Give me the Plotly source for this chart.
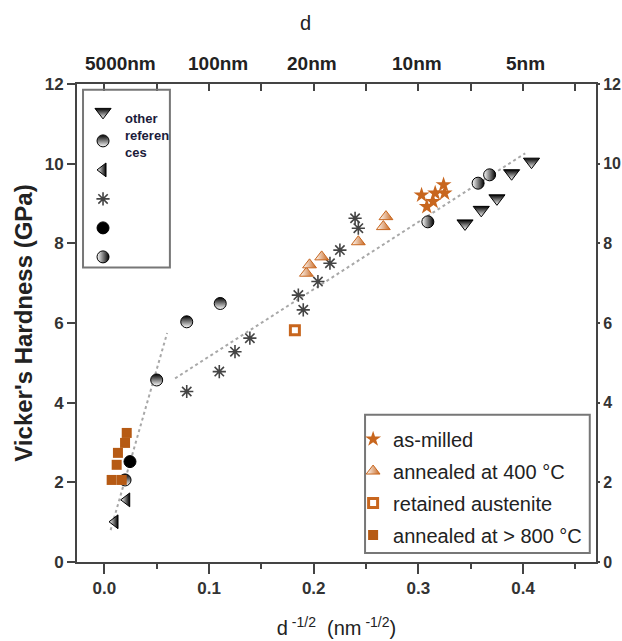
import plotly.graph_objects as go

# ---------------- data ----------------
# "other references"
dtri_x = [0.3445, 0.360, 0.375, 0.389, 0.408]
dtri_y = [8.50, 8.84, 9.13, 9.76, 10.05]
capc_x = [0.0198, 0.050, 0.0787, 0.1107]
capc_y = [2.06, 4.57, 6.03, 6.49]
ltri_x = [0.0102, 0.0214]
ltri_y = [1.01, 1.56]
ast_x = [0.0787, 0.1098, 0.1248, 0.139, 0.1853, 0.190, 0.204, 0.2155, 0.225, 0.2395, 0.2426]
ast_y = [4.28, 4.78, 5.28, 5.62, 6.70, 6.33, 7.04, 7.50, 7.83, 8.63, 8.38]
fcir_x = [0.0245]
fcir_y = [2.52]
hcir_x = [0.309, 0.357, 0.368]
hcir_y = [8.54, 9.51, 9.72]

# this work
star_x = [0.303, 0.308, 0.314, 0.316, 0.324, 0.325]
star_y = [9.21, 8.92, 9.05, 9.26, 9.47, 9.26]
tri400_x = [0.193, 0.196, 0.2076, 0.2426, 0.2665, 0.269]
tri400_y = [7.25, 7.46, 7.66, 8.04, 8.42, 8.67]
ret_x = [0.182]
ret_y = [5.82]
sq800_x = [0.0214, 0.0198, 0.013, 0.0118, 0.007, 0.0166]
sq800_y = [3.24, 2.99, 2.74, 2.44, 2.06, 2.06]

# dotted guide lines
fit1_x = [0.006, 0.060]
fit1_y = [0.80, 5.75]
fit2_x = [0.0676, 0.402]
fit2_y = [4.61, 10.26]

# axis ticks
y_ticks = [0, 2, 4, 6, 8, 10, 12]
x_ticks = [0.0, 0.1, 0.2, 0.3, 0.4]
x_tick_text = ["0.0", "0.1", "0.2", "0.3", "0.4"]
top_label_x = [0.015, 0.1086, 0.1983, 0.2987, 0.4018]
top_label_text = ["5000nm", "100nm", "20nm", "10nm", "5nm"]

ORANGE = "#c8661e"
SQ = "#b65a14"
FONT = "Liberation Sans, Arial, sans-serif"
NB = "\u00a0"

fig = go.Figure()

fig.add_trace(go.Scatter(x=fit1_x, y=fit1_y, mode="lines", showlegend=False,
                         line=dict(color="#a8a8a8", width=2, dash="dot")))
fig.add_trace(go.Scatter(x=fit2_x, y=fit2_y, mode="lines", showlegend=False,
                         line=dict(color="#a8a8a8", width=2, dash="dot")))

lg2 = dict(legend="legend2")
fig.add_trace(go.Scatter(x=dtri_x, y=dtri_y, mode="markers", name=NB, legendgroup="a", **lg2,
                         marker=dict(symbol="triangle-down", size=14, color="black",
                                     gradient=dict(type="vertical", color="white"),
                                     line=dict(color="black", width=1))))
fig.add_trace(go.Scatter(x=capc_x, y=capc_y, mode="markers", name=NB, legendgroup="b", **lg2,
                         marker=dict(symbol="circle", size=12, color="black",
                                     gradient=dict(type="vertical", color="white"),
                                     line=dict(color="black", width=1))))
fig.add_trace(go.Scatter(x=ltri_x, y=ltri_y, mode="markers", name=NB, legendgroup="c", **lg2,
                         marker=dict(symbol="triangle-left", size=12, color="white",
                                     gradient=dict(type="horizontal", color="black"),
                                     line=dict(color="black", width=1))))
fig.add_trace(go.Scatter(x=ast_x, y=ast_y, mode="markers", name=NB, legendgroup="d", **lg2,
                         marker=dict(symbol="asterisk", size=11, color="#444",
                                     line=dict(color="#444", width=1.6))))
fig.add_trace(go.Scatter(x=fcir_x, y=fcir_y, mode="markers", name=NB, legendgroup="e", **lg2,
                         marker=dict(symbol="circle", size=12, color="black",
                                     line=dict(color="black", width=1))))
fig.add_trace(go.Scatter(x=hcir_x, y=hcir_y, mode="markers", name=NB, legendgroup="f", **lg2,
                         marker=dict(symbol="circle", size=12, color="white",
                                     gradient=dict(type="horizontal", color="black"),
                                     line=dict(color="black", width=1))))

fig.add_trace(go.Scatter(x=sq800_x, y=sq800_y, mode="markers", name="annealed at > 800 °C",
                         legendgroup="s4", legendrank=4,
                         marker=dict(symbol="square", size=10, color=SQ, line=dict(width=0))))
fig.add_trace(go.Scatter(x=ret_x, y=ret_y, mode="markers", name="retained austenite",
                         legendgroup="s3", legendrank=3,
                         marker=dict(symbol="square-open", size=9, color=ORANGE,
                                     line=dict(color=ORANGE, width=3))))
fig.add_trace(go.Scatter(x=tri400_x, y=tri400_y, mode="markers", name="annealed at 400 °C",
                         legendgroup="s2", legendrank=2,
                         marker=dict(symbol="triangle-up", size=12, color="white",
                                     gradient=dict(type="horizontal", color=ORANGE),
                                     line=dict(color=ORANGE, width=1))))
fig.add_trace(go.Scatter(x=star_x, y=star_y, mode="markers", name="as-milled",
                         legendgroup="s1", legendrank=1,
                         marker=dict(symbol="star", size=12, color=ORANGE, line=dict(width=0))))

# invisible trace to activate the right y axis and top x axis
fig.add_trace(go.Scatter(x=[None], y=[None], xaxis="x2", yaxis="y2", showlegend=False))

XR = [-0.0261, 0.4696]
axis_font = dict(family=FONT, size=17, color="#333", weight="bold")
axis_font_r = dict(family=FONT, size=16, color="#333", weight="bold")

fig.update_layout(
    width=622, height=641,
    margin=dict(l=77, r=26, t=84, b=79, autoexpand=False),
    paper_bgcolor="white", plot_bgcolor="white",
    font=dict(family=FONT, color="#222"),
    xaxis=dict(range=XR, tickvals=x_ticks, ticktext=x_tick_text, ticks="outside", ticklen=10,
               tickwidth=2, tickcolor="#444", showline=True, linecolor="#444", linewidth=2,
               showgrid=False, zeroline=False, tickfont=axis_font, automargin=False,
               minor=dict(dtick=0.05, tick0=0, ticks="outside", ticklen=5, tickwidth=2, tickcolor="#444"),
               title=dict(text="d<sup> -1/2</sup>  (nm<sup> -1/2</sup>)",
                          font=dict(family=FONT, size=20, color="#222"), standoff=24)),
    xaxis2=dict(range=XR, overlaying="x", side="top", dtick=0.05, tick0=0, ticks="inside", ticklen=7,
                tickwidth=2, tickcolor="#444", showline=True, linecolor="#444", linewidth=2,
                showgrid=False, zeroline=False, showticklabels=False, automargin=False),
    yaxis=dict(range=[0, 12], tickvals=y_ticks, ticks="outside", ticklen=8, tickwidth=2,
               tickcolor="#444", showline=True, linecolor="#444", linewidth=2, showgrid=False,
               zeroline=False, tickfont=axis_font, automargin=False,
               title=dict(text="Vicker's Hardness (GPa)",
                          font=dict(family=FONT, size=24, color="#222", weight="bold"), standoff=5)),
    yaxis2=dict(range=[0, 12], overlaying="y", side="right", tickvals=y_ticks, ticks="outside",
                ticklen=2, tickwidth=2, tickcolor="#444", showline=True, linecolor="#444",
                linewidth=2, showgrid=False, zeroline=False, tickfont=axis_font_r, automargin=False),
    legend=dict(x=0.532, y=0.298, xanchor="left", yanchor="top", bgcolor="rgba(0,0,0,0)",
                borderwidth=0, font=dict(family=FONT, size=20, color="#222"),
                tracegroupgap=3, itemwidth=30, traceorder="grouped"),
    legend2=dict(x=0.0116, y=0.972, xanchor="left", yanchor="top", bgcolor="rgba(0,0,0,0)",
                 borderwidth=0, font=dict(family=FONT, size=12, color="#1b1b3a"),
                 tracegroupgap=10, itemwidth=30),
    showlegend=True,
)

# legend frames
fig.add_shape(type="rect", xref="paper", yref="paper", x0=0.555, x1=0.988, y0=0.019, y1=0.308,
              line=dict(color="#777", width=2), fillcolor="rgba(0,0,0,0)", layer="above")
fig.add_shape(type="rect", xref="paper", yref="paper", x0=0.0116, x1=0.179, y0=0.616, y1=0.988,
              line=dict(color="#777", width=2), fillcolor="rgba(0,0,0,0)", layer="above")

for xv, tx in zip(top_label_x, top_label_text):
    fig.add_annotation(x=xv, y=1.043, xref="x", yref="paper", text=tx, showarrow=False,
                       yanchor="middle", font=dict(family=FONT, size=19, color="#222", weight="bold"))
fig.add_annotation(x=0.44, y=1.127, xref="paper", yref="paper", text="d", showarrow=False,
                   yanchor="middle", font=dict(family=FONT, size=20, color="#222"))
fig.add_annotation(x=0.0886, y=0.893, xref="paper", yref="paper", text="other<br>referen<br>ces",
                   showarrow=False, xanchor="left", yanchor="middle", align="left",
                   font=dict(family=FONT, size=13, color="#1b1b3a", weight="bold"))

fig.write_html("out.html")
